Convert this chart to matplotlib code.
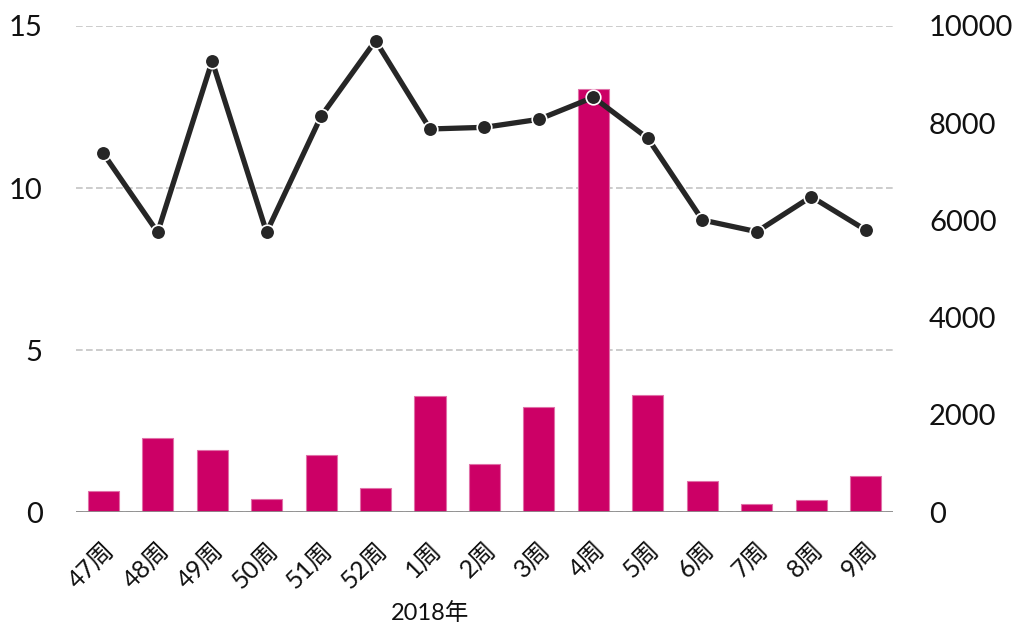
import numpy as np
import matplotlib
matplotlib.use('Agg')
from matplotlib import pyplot as plt
from matplotlib import transforms

plt.rcParams['font.family'] = ['Lato', 'Noto Sans CJK SC', 'DejaVu Sans']

weeks = ['47周', '48周', '49周', '50周', '51周', '52周', '1周', '2周', '3周',
         '4周', '5周', '6周', '7周', '8周', '9周']
bar_vals = [0.65, 2.28, 1.91, 0.39, 1.75, 0.74, 3.59, 1.48, 3.23,
            13.06, 3.61, 0.96, 0.24, 0.36, 1.10]
line_vals = [7380, 5755, 9280, 5755, 8142, 9698, 7881, 7915, 8080,
             8533, 7689, 6008, 5768, 6488, 5802]
left_ticks = [0, 5, 10, 15]
right_ticks = [0, 2000, 4000, 6000, 8000, 10000]
year_label = '2018年'

fig = plt.figure(figsize=(10.13, 6.28), dpi=100)
ax = fig.add_axes([0.075, 0.1847, 0.8065, 0.7739])
ax2 = ax.twinx()

x = np.arange(len(weeks))
ax.bar(x, bar_vals, width=0.57, color='#cc0066', edgecolor='#e070a8',
       linewidth=0.8, zorder=2)
ax.set_ylim(0, 15)
ax.set_xlim(-0.5, len(weeks) - 0.5)
ax.set_yticks(left_ticks)
ax.yaxis.grid(True, linestyle=(0, (4, 2)), color='#c4c4c4', linewidth=1.2, zorder=0)
ax.set_axisbelow(True)
ax.axhline(0, color='#8c8c8c', linewidth=2, zorder=3)

ax2.plot(x, line_vals, color='#262626', linewidth=3.8, marker='o',
         markersize=10.5, markerfacecolor='#262626', markeredgecolor='white',
         markeredgewidth=1.2, zorder=4)
ax2.set_ylim(0, 10000)
ax2.set_yticks(right_ticks)

for a in (ax, ax2):
    for s in a.spines.values():
        s.set_visible(False)
    a.tick_params(length=0, labelsize=21, colors='#111111')
ax.tick_params(axis='y', pad=24)
ax2.tick_params(axis='y', pad=26)

# rotated week labels
ax.set_xticks(x)
ax.set_xticklabels(weeks, rotation=45, ha='right', va='top',
                   rotation_mode='anchor', fontsize=18)
ax.tick_params(axis='x', pad=19)

yr = transforms.blended_transform_factory(ax.transData, transforms.IdentityTransform())
ax.text(6, 628 - 613, year_label, transform=yr, ha='center', va='center',
        fontsize=17, color='#111111')

fig.savefig('out.png', dpi=100)
